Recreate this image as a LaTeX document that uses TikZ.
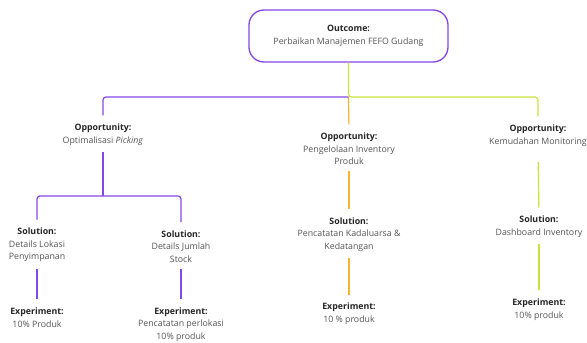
\documentclass[tikz,border=0pt]{standalone}
\usepackage{fontspec}
\setmainfont{Open Sans}
\definecolor{vio}{HTML}{8547E6}
\definecolor{lime}{HTML}{C8E43C}
\definecolor{ora}{HTML}{F3B530}
\definecolor{txt}{HTML}{555555}
\definecolor{hd}{HTML}{262626}
\newcommand{\hd}[1]{{\color{hd}\bfseries #1}}
\begin{document}
\begin{tikzpicture}[x=1pt,y=-1pt,
  lbl/.style={align=center,inner sep=0pt,outer sep=0pt,text=txt,font=\fontsize{8.8}{12.6}\selectfont},
  ln/.style={line width=1.2pt,rounded corners=3pt,shorten >=8.5pt},
  fromnode/.style={shorten <=6.5pt},
  box/.style={draw=vio,line width=1.3pt,rounded corners=15pt,minimum width=199pt,minimum height=52pt,align=center,text=txt,font=\fontsize{8.8}{12.6}\selectfont}]
\useasboundingbox[fill=white] (0,0) rectangle (587,343);
\node[box] (out) at (348.5,36) {\hd{Outcome:}\\Perbaikan Manajemen FEFO Gudang};
\node[lbl] (o1) at (103,134.5) {\hd{Opportunity:}\\Optimalisasi \textit{Picking}};
\node[lbl] (o2) at (349,149) {\hd{Opportunity:}\\Pengelolaan Inventory\\Produk};
\node[lbl] (o3) at (538,135.5) {\hd{Opportunity:}\\Kemudahan Monitoring};
\node[lbl] (s1) at (37,245) {\hd{Solution:}\\Details Lokasi\\Penyimpanan};
\node[lbl] (s2) at (181,246.5) {\hd{Solution:}\\Details Jumlah\\Stock};
\node[lbl] (s3) at (349,234.5) {\hd{Solution:}\\Pencatatan Kadaluarsa \&\\Kedatangan};
\node[lbl] (s4) at (539,227) {\hd{Solution:}\\Dashboard Inventory};
\node[lbl] (e1) at (37,317.5) {\hd{Experiment:}\\10\% Produk};
\node[lbl] (e2) at (181,324.5) {\hd{Experiment:}\\Pencatatan perlokasi\\10\% produk};
\node[lbl] (e3) at (349,314) {\hd{Experiment:}\\10 \% produk};
\node[lbl] (e4) at (539,309.5) {\hd{Experiment:}\\10\% produk};
\coordinate (j) at (348.5,97);
\coordinate (j2) at (103,196);
% top level
\draw[ln,ora] (j) -- (o2.north);
\draw[ln,vio] (j) -| (o1.north);
\draw[ln,lime] (out.south) -- (j) -| (o3.north);
% opportunity 1 branch
\draw[ln,vio,fromnode,shorten >=0pt] (o1.south) -- (j2);
\draw[ln,vio] (j2) -| (s1.north);
\draw[ln,vio] (j2) -| (s2.north);
\draw[ln,vio,fromnode] (s1.south) -- (e1.north);
\draw[ln,vio,fromnode] (s2.south) -- (e2.north);
% opportunity 2
\draw[ln,ora,fromnode] (o2.south) -- (s3.north);
\draw[ln,ora,fromnode] (s3.south) -- (e3.north);
% opportunity 3
\draw[ln,lime,shorten <=16pt] (o3.south) -- (s4.north);
\draw[ln,lime,fromnode] (s4.south) -- (e4.north);
\end{tikzpicture}
\end{document}
